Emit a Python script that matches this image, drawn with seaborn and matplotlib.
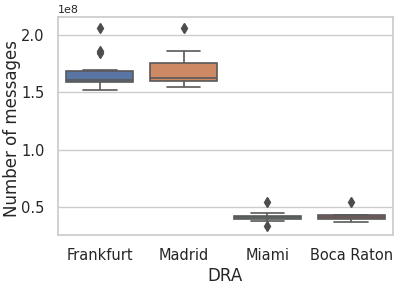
import matplotlib
matplotlib.use("Agg")
import matplotlib.pyplot as plt
import seaborn as sns
import pandas as pd

categories = ["Frankfurt", "Madrid", "Miami", "Boca Raton"]

frankfurt = [1.52e8, 1.57e8, 1.585e8, 1.59e8, 1.59e8, 1.60e8, 1.605e8, 1.61e8,
             1.615e8, 1.63e8, 1.66e8, 1.685e8, 1.70e8, 1.845e8, 1.86e8, 2.06e8]
madrid = [1.545e8, 1.58e8, 1.59e8, 1.60e8, 1.615e8, 1.62e8, 1.63e8, 1.70e8,
          1.75e8, 1.77e8, 1.86e8, 2.06e8]
miami = [0.338e8, 0.38e8, 0.395e8, 0.40e8, 0.405e8, 0.41e8, 0.415e8, 0.42e8,
         0.425e8, 0.43e8, 0.445e8, 0.546e8]
boca_raton = [0.37e8, 0.39e8, 0.395e8, 0.40e8, 0.41e8, 0.415e8, 0.42e8,
              0.425e8, 0.43e8, 0.435e8, 0.546e8]

series = [frankfurt, madrid, miami, boca_raton]
rows = []
for cat, vals in zip(categories, series):
    for v in vals:
        rows.append({"DRA": cat, "Number of messages": v})
df = pd.DataFrame(rows)

sns.set_theme(style="whitegrid")
fig = plt.figure(figsize=(3.99, 2.85), dpi=100)
ax = fig.add_axes([0.145, 0.175, 0.84, 0.765])
sns.boxplot(data=df, x="DRA", y="Number of messages", hue="DRA",
            order=categories, palette="deep", legend=False, ax=ax,
            linecolor="0.35", linewidth=1.2,
            flierprops=dict(marker="d", markerfacecolor="0.3",
                            markeredgecolor="0.3", markersize=5))
ax.set_ylim(0.256e8, 2.157e8)
ax.set_yticks([0.5e8, 1.0e8, 1.5e8, 2.0e8])
ax.tick_params(axis="both", labelsize=10.5)
ax.set_xlabel("DRA", fontsize=12, labelpad=3)
ax.set_ylabel("Number of messages", fontsize=12)
ax.yaxis.set_label_coords(-0.11, 0.49)
ax.yaxis.get_offset_text().set_fontsize(8)
fig.savefig("out.png", dpi=100)
